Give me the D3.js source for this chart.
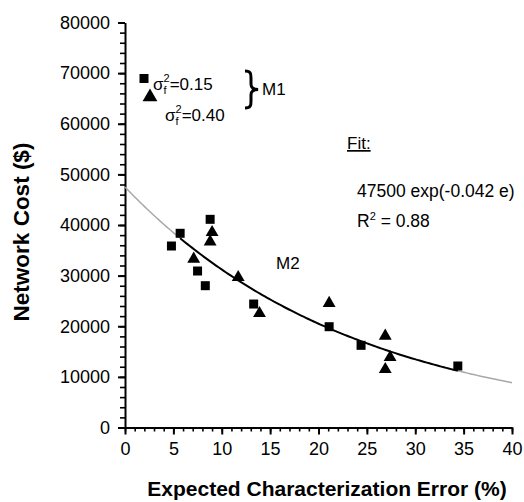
<!DOCTYPE html>
<html>
<head>
<meta charset="utf-8">
<script src="https://cdn.jsdelivr.net/npm/d3@7"></script>
<style>
  body { margin: 0; background: #fff; }
  text { font-family: "Liberation Sans", Arial, sans-serif; fill: #000; }
</style>
</head>
<body>
<script>
// sigma_f^2 = 0.15 (squares)
var squareError = [4.8, 5.7, 7.5, 8.3, 8.8, 13.3, 21.1, 24.4, 34.4];
var squareCost  = [35850, 38360, 30910, 28010, 41120, 24390, 19910, 16230, 12150];

// sigma_f^2 = 0.40 (triangles)
var triError = [7.1, 8.8, 9.0, 11.7, 13.9, 21.1, 26.9, 27.4, 26.9];
var triCost  = [33280, 36700, 38550, 29660, 22550, 24530, 18070, 13860, 11490];

// fit: 47500 exp(-0.042 e), drawn dark where the data lie
var fitA = 47500;
var fitB = -0.042;
var fitDark = [5.7, 34.4];
var fitEnd = 40;

var xTicks = [0, 5, 10, 15, 20, 25, 30, 35, 40];
var yTicks = [0, 10000, 20000, 30000, 40000, 50000, 60000, 70000, 80000];

var margin = {left: 125, right: 12, top: 22.5, bottom: 74.5};
var width = 387;
var height = 405;

var svg = d3.select("body").append("svg")
    .attr("width", 524)
    .attr("height", 502)
    .append("g")
        .attr("transform", "translate(" + margin.left + "," + margin.top + ")");

var xScale = d3.scaleLinear().domain([0, 40]).range([0, width]);
var yScale = d3.scaleLinear().domain([0, 80000]).range([height, 0]);

// minor ticks first, then the major axis on top
svg.append("g")
    .attr("transform", "translate(0," + height + ")")
    .call(d3.axisBottom(xScale).tickValues(d3.range(0, 41, 1)).tickSize(4).tickFormat(""))
    .call(function(g){ g.select(".domain").remove(); })
    .selectAll("line").attr("stroke-width", 1.6);

svg.append("g")
    .attr("transform", "translate(0," + height + ")")
    .call(d3.axisBottom(xScale).tickValues(xTicks).tickSize(7).tickSizeOuter(0).tickPadding(8))
    .call(function(g){
        g.select(".domain").attr("stroke-width", 2);
        g.selectAll("line").attr("stroke-width", 2);
        g.selectAll("text").style("font-size", "18px").attr("fill", "#000");
    });

svg.append("g")
    .call(d3.axisLeft(yScale).tickValues(d3.range(0, 80001, 2000)).tickSize(5).tickFormat(""))
    .call(function(g){ g.select(".domain").remove(); })
    .selectAll("line").attr("stroke-width", 1.6);

svg.append("g")
    .call(d3.axisLeft(yScale).tickValues(yTicks).tickSize(7).tickSizeOuter(0).tickPadding(8)
        .tickFormat(d3.format("d")))
    .call(function(g){
        g.select(".domain").attr("stroke-width", 2);
        g.selectAll("line").attr("stroke-width", 2);
        g.selectAll("text").style("font-size", "18px").attr("fill", "#000");
    });

// fit curve
var fitLine = d3.line()
    .x(function(e){ return xScale(e); })
    .y(function(e){ return yScale(fitA * Math.exp(fitB * e)); });

function fitRange(a, b){
    return d3.range(a, b, 0.25).concat([b]);
}

svg.append("path")
    .attr("d", fitLine(fitRange(0, fitDark[0])))
    .attr("fill", "none").attr("stroke", "#a8a8a8").attr("stroke-width", 1.5);
svg.append("path")
    .attr("d", fitLine(fitRange(fitDark[1], fitEnd)))
    .attr("fill", "none").attr("stroke", "#a8a8a8").attr("stroke-width", 1.5);
svg.append("path")
    .attr("d", fitLine(fitRange(fitDark[0], fitDark[1])))
    .attr("fill", "none").attr("stroke", "#000").attr("stroke-width", 2);

// points
var squares = squareError.map(function(e, i){ return {e: e, c: squareCost[i]}; });
var triangles = triError.map(function(e, i){ return {e: e, c: triCost[i]}; });

svg.append("g")
    .selectAll("path")
    .data(squares)
    .enter()
    .append("path")
    .attr("d", d3.symbol().type(d3.symbolSquare).size(81))
    .attr("transform", function(d){
        return "translate(" + xScale(d.e) + "," + yScale(d.c) + ")";
    })
    .attr("fill", "#000");

svg.append("g")
    .selectAll("path")
    .data(triangles)
    .enter()
    .append("path")
    .attr("d", d3.symbol().type(d3.symbolTriangle).size(72))
    .attr("transform", function(d){
        return "translate(" + xScale(d.e) + "," + yScale(d.c) + ")";
    })
    .attr("fill", "#000");

// legend (M1), in page coordinates
var page = d3.select("svg").append("g");

page.append("path")
    .attr("d", d3.symbol().type(d3.symbolSquare).size(81))
    .attr("transform", "translate(144,78.5)");
page.append("path")
    .attr("d", d3.symbol().type(d3.symbolTriangle).size(95))
    .attr("transform", "translate(150,97)");

function sigmaLabel(x, y, value){
    var t = page.append("text")
        .attr("x", x).attr("y", y)
        .style("font-size", "17px");
    t.append("tspan").text("\u03c3");
    t.append("tspan").attr("dy", 4).style("font-size", "11px").text("f");
    t.append("tspan").attr("dx", -3).attr("dy", -12).style("font-size", "11px").text("2");
    t.append("tspan").attr("dy", 8).text("=" + value);
}
sigmaLabel(153, 90, "0.15");
sigmaLabel(165, 121, "0.40");

page.append("path")
    .attr("d", "M245,71 C251,71 251,74 251,78 L251,84 C251,88 253,89 258,89.5 C253,90 251,91 251,95 L251,101 C251,105 251,108 245,108")
    .attr("fill", "none").attr("stroke", "#000").attr("stroke-width", 3);

page.append("text")
    .attr("x", 262).attr("y", 95)
    .style("font-size", "17px")
    .text("M1");

page.append("text")
    .attr("x", 276).attr("y", 269)
    .style("font-size", "17px")
    .text("M2");

// fit annotation
page.append("text")
    .attr("x", 347).attr("y", 149)
    .style("font-size", "17px")
    .style("text-decoration", "underline")
    .text("Fit:");

page.append("text")
    .attr("x", 357).attr("y", 197)
    .style("font-size", "17.5px")
    .text("47500 exp(-0.042 e)");

var r2 = page.append("text")
    .attr("x", 357).attr("y", 227)
    .style("font-size", "17.5px");
r2.append("tspan").text("R");
r2.append("tspan").attr("dy", -7).style("font-size", "11px").text("2");
r2.append("tspan").attr("dy", 7).text(" = 0.88");

// axis titles
page.append("text")
    .attr("x", 327).attr("y", 496)
    .attr("text-anchor", "middle")
    .style("font-size", "21px")
    .style("font-weight", "bold")
    .text("Expected Characterization Error (%)");

page.append("text")
    .attr("text-anchor", "middle")
    .attr("transform", "translate(29,232) rotate(-90)")
    .style("font-size", "22.5px")
    .style("font-weight", "bold")
    .text("Network Cost ($)");
</script>
</body>
</html>
